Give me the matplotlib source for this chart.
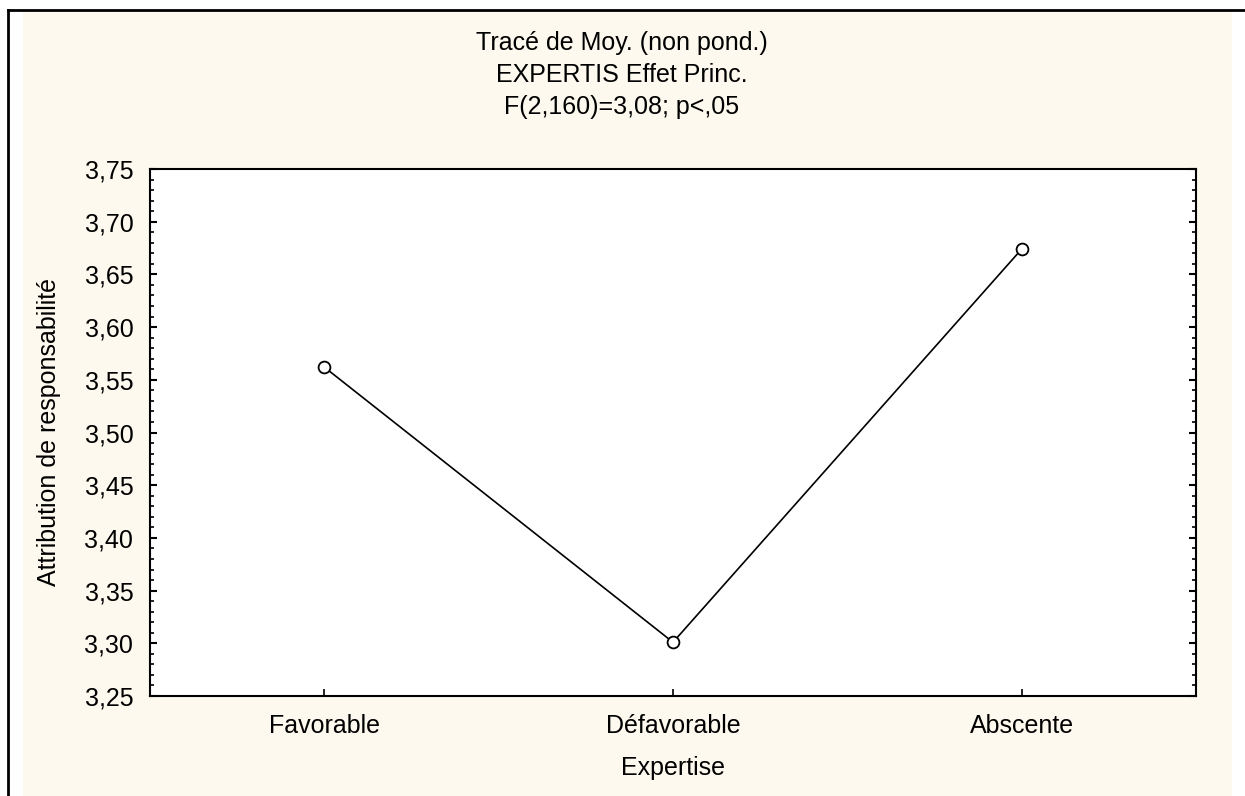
import matplotlib
matplotlib.use("Agg")
import matplotlib.pyplot as plt
from matplotlib.patches import Rectangle
from matplotlib.lines import Line2D
from matplotlib.ticker import MultipleLocator, FuncFormatter

# data
categories = ["Favorable", "Défavorable", "Abscente"]
means = [3.562, 3.301, 3.674]
title_lines = ["Tracé de Moy. (non pond.)", "EXPERTIS Effet Princ.", "F(2,160)=3,08; p<,05"]

plt.rcParams['font.family'] = ['Liberation Sans', 'DejaVu Sans']

W, H = 1245, 796
fig = plt.figure(figsize=(W / 100, H / 100), dpi=100)
fig.patch.set_facecolor('white')

# cream panel + black frame lines
fig.patches.append(Rectangle((23 / W, 0), (1232 - 23) / W, 1 - 12 / H,
                             transform=fig.transFigure, facecolor='#fdf9ee',
                             edgecolor='none', zorder=-10))
fig.lines.append(Line2D([8 / W, 1], [1 - 10 / H, 1 - 10 / H], transform=fig.transFigure,
                        color='black', lw=2, zorder=-5))
fig.lines.append(Line2D([8 / W, 8 / W], [0, 1 - 10 / H], transform=fig.transFigure,
                        color='black', lw=2, zorder=-5))

ax = fig.add_axes([150 / W, 1 - 696 / H, (1196 - 150) / W, (696 - 169) / H])
ax.set_zorder(5)
ax.set_facecolor('white')
x = list(range(len(categories)))
ax.plot(x, means, color='black', lw=1.2, marker='o', markersize=8.5,
        markerfacecolor='white', markeredgecolor='black', markeredgewidth=1.3)

ax.set_xlim(-0.5, 2.5)
ax.set_ylim(3.25, 3.75)
ax.set_xticks(x)
ax.set_xticklabels(categories)
ax.yaxis.set_major_locator(MultipleLocator(0.05))
ax.yaxis.set_minor_locator(MultipleLocator(0.01))
ax.yaxis.set_major_formatter(FuncFormatter(lambda v, p: f"{v:.2f}".replace('.', ',')))

for s in ax.spines.values():
    s.set_linewidth(1.5)
ax.tick_params(axis='y', which='major', direction='in', length=5, width=1.5,
               right=True, labelsize=18, pad=12)
ax.tick_params(axis='y', which='minor', direction='in', length=3, width=1.2, right=True)
ax.tick_params(axis='x', which='major', direction='in', length=5, width=1.2,
               labelsize=18, pad=13)

ax.set_xlabel("Expertise", fontsize=18, labelpad=13)
ax.set_ylabel("Attribution de responsabilité", fontsize=18, labelpad=17)

for i, t in enumerate(title_lines):
    fig.text(622 / W, 1 - (43 + 32 * i) / H, t, ha='center', va='center', fontsize=18)

fig.savefig("out.png", dpi=100)
